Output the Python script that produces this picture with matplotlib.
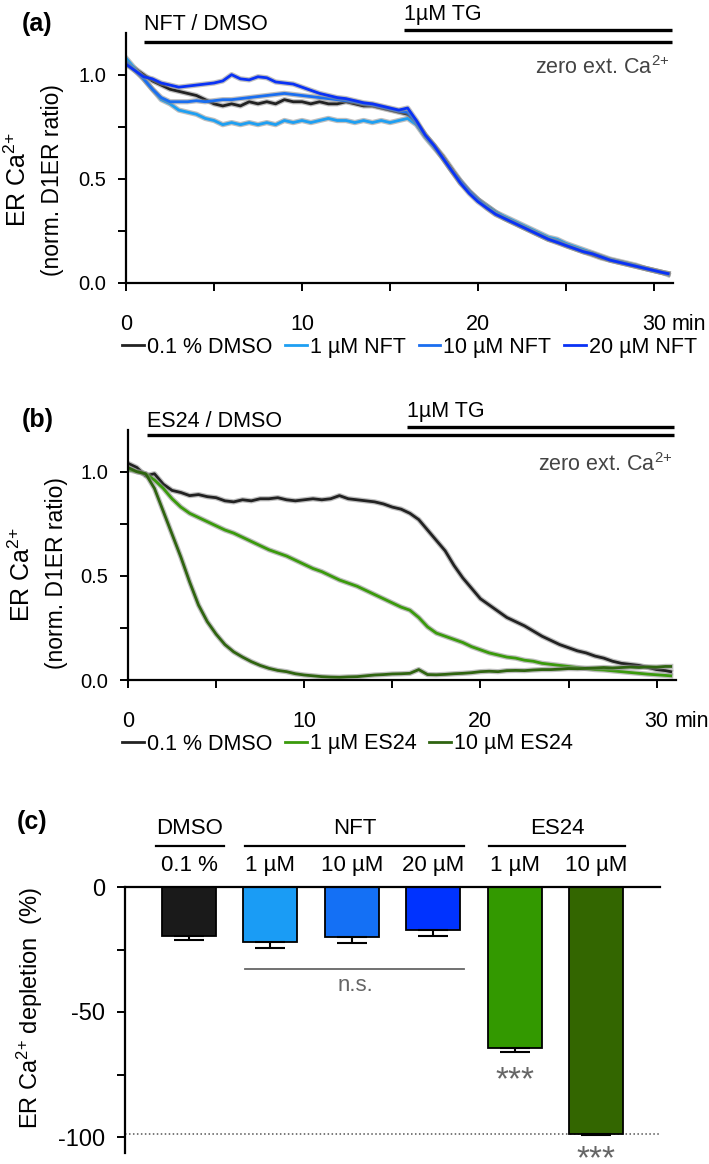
import numpy as np
import matplotlib
matplotlib.use("Agg")
import matplotlib.pyplot as plt

plt.rcParams['font.family'] = ['Liberation Sans', 'DejaVu Sans']
plt.rcParams['mathtext.fontset'] = 'custom'
plt.rcParams['mathtext.rm'] = 'Liberation Sans'
plt.rcParams['mathtext.it'] = 'Liberation Sans:italic'
plt.rcParams['mathtext.bf'] = 'Liberation Sans:bold'

# ---- data ----
t = list(np.arange(0, 30.6, 0.5)) + [30.8]   # minutes

# panel (a): NFT
a_dmso = [1.05, 1.03, 1.00, 0.97, 0.95, 0.93, 0.92, 0.91, 0.90, 0.88, 0.86, 0.85, 0.86, 0.85, 0.87, 0.86,
          0.87, 0.86, 0.88, 0.87, 0.87, 0.86, 0.87, 0.86, 0.86, 0.87, 0.86, 0.85, 0.85, 0.84, 0.83, 0.82,
          0.81, 0.77, 0.71, 0.66, 0.61, 0.55, 0.49, 0.44, 0.40, 0.37, 0.34, 0.31, 0.29, 0.27, 0.25, 0.23,
          0.21, 0.195, 0.18, 0.165, 0.15, 0.135, 0.12, 0.11, 0.10, 0.09, 0.08, 0.07, 0.06, 0.05, 0.045]
a_nft1 = [1.08, 1.03, 0.98, 0.93, 0.88, 0.86, 0.83, 0.82, 0.81, 0.79, 0.78, 0.76, 0.77, 0.76, 0.77, 0.76,
          0.77, 0.76, 0.78, 0.77, 0.78, 0.77, 0.78, 0.79, 0.78, 0.78, 0.77, 0.78, 0.77, 0.78, 0.77, 0.78,
          0.79, 0.76, 0.70, 0.65, 0.60, 0.54, 0.48, 0.44, 0.40, 0.37, 0.34, 0.32, 0.30, 0.28, 0.26, 0.24,
          0.22, 0.21, 0.19, 0.175, 0.16, 0.145, 0.13, 0.115, 0.105, 0.095, 0.085, 0.07, 0.06, 0.05, 0.04]
a_nft10 = [1.06, 1.02, 0.98, 0.93, 0.89, 0.87, 0.87, 0.87, 0.875, 0.87, 0.875, 0.88, 0.88, 0.885, 0.89, 0.895,
           0.90, 0.905, 0.91, 0.905, 0.90, 0.895, 0.89, 0.885, 0.88, 0.875, 0.87, 0.86, 0.855, 0.845, 0.835, 0.825,
           0.82, 0.77, 0.71, 0.66, 0.60, 0.54, 0.49, 0.44, 0.40, 0.36, 0.33, 0.31, 0.29, 0.27, 0.25, 0.23,
           0.21, 0.20, 0.18, 0.165, 0.15, 0.14, 0.125, 0.11, 0.10, 0.09, 0.08, 0.07, 0.06, 0.05, 0.045]
a_nft20 = [1.05, 1.02, 0.99, 0.98, 0.96, 0.95, 0.94, 0.945, 0.95, 0.955, 0.96, 0.97, 1.00, 0.98, 0.975, 0.99,
           0.985, 0.965, 0.96, 0.955, 0.94, 0.925, 0.91, 0.90, 0.89, 0.885, 0.875, 0.865, 0.86, 0.85, 0.84, 0.83,
           0.84, 0.78, 0.71, 0.66, 0.60, 0.54, 0.48, 0.43, 0.39, 0.36, 0.33, 0.31, 0.29, 0.27, 0.25, 0.23,
           0.21, 0.195, 0.18, 0.165, 0.15, 0.14, 0.125, 0.11, 0.10, 0.09, 0.08, 0.07, 0.06, 0.05, 0.045]

# panel (b): ES24
b_dmso = [1.04, 1.02, 0.98, 0.99, 0.94, 0.91, 0.90, 0.885, 0.89, 0.88, 0.875, 0.86, 0.855, 0.865, 0.86, 0.87,
          0.87, 0.875, 0.865, 0.86, 0.865, 0.87, 0.865, 0.87, 0.885, 0.87, 0.865, 0.86, 0.855, 0.845, 0.83, 0.82,
          0.80, 0.77, 0.72, 0.67, 0.62, 0.55, 0.49, 0.44, 0.39, 0.36, 0.33, 0.30, 0.28, 0.26, 0.235, 0.21,
          0.19, 0.17, 0.155, 0.14, 0.13, 0.115, 0.105, 0.09, 0.08, 0.075, 0.07, 0.06, 0.05, 0.045, 0.04]
b_es1 = [1.01, 1.00, 0.99, 0.96, 0.92, 0.87, 0.83, 0.80, 0.78, 0.76, 0.74, 0.72, 0.705, 0.685, 0.665, 0.645,
         0.625, 0.61, 0.595, 0.575, 0.555, 0.535, 0.52, 0.50, 0.48, 0.465, 0.45, 0.43, 0.41, 0.39, 0.37, 0.35,
         0.335, 0.30, 0.255, 0.225, 0.21, 0.195, 0.18, 0.16, 0.145, 0.13, 0.12, 0.11, 0.105, 0.095, 0.09, 0.08,
         0.075, 0.07, 0.065, 0.06, 0.055, 0.05, 0.048, 0.044, 0.04, 0.036, 0.032, 0.028, 0.025, 0.022, 0.02]
b_es10 = [1.02, 1.00, 0.99, 0.92, 0.81, 0.70, 0.59, 0.47, 0.36, 0.28, 0.22, 0.17, 0.135, 0.11, 0.088, 0.07,
          0.056, 0.046, 0.04, 0.03, 0.024, 0.02, 0.016, 0.014, 0.013, 0.015, 0.016, 0.02, 0.024, 0.026, 0.029, 0.03,
          0.032, 0.05, 0.026, 0.025, 0.027, 0.03, 0.032, 0.035, 0.04, 0.042, 0.04, 0.045, 0.046, 0.045, 0.048, 0.05,
          0.05, 0.052, 0.055, 0.054, 0.056, 0.058, 0.06, 0.058, 0.06, 0.062, 0.06, 0.063, 0.062, 0.065, 0.065]

# panel (c): depletion
groups = ['DMSO', 'NFT', 'ES24']
conc_labels = ['0.1 %', '1 µM', '10 µM', '20 µM', '1 µM', '10 µM']
depletion = [-19.5, -22.0, -20.0, -17.2, -64.5, -98.6]
depl_err = [1.8, 2.5, 2.5, 2.3, 1.5, 0.5]

c_dmso = '#222222'
c_nft = ['#1e9ff2', '#1a6ef0', '#0a32f5']
c_es = ['#3a9a0c', '#2f6410']
bar_colors = ['#1a1a1a', '#1a9cf5', '#1470f5', '#0033ff', '#339900', '#336600']

FS = 15.5   # annotation / legend text size
CA = 'Ca$^{2{+}}$'

fig = plt.figure(figsize=(7.09, 11.64), dpi=100)


def trace_axes(rect, xmax):
    ax = fig.add_axes(rect)
    ax.set_xlim(0, xmax)
    ax.set_ylim(0, 1.2)
    for s in ['top', 'right']:
        ax.spines[s].set_visible(False)
    for s in ['left', 'bottom']:
        ax.spines[s].set_linewidth(1.6)
    ax.set_xticks([0, 10, 20, 30])
    ax.set_xticklabels(['0', '10', '20', '30'], fontsize=15.5)
    ax.set_xticks([5, 15, 25], minor=True)
    ax.set_yticks([0, 0.5, 1.0])
    ax.set_yticklabels(['0.0', '0.5', '1.0'], fontsize=14.5)
    ax.set_yticks([0.25, 0.75], minor=True)
    ax.tick_params(axis='both', which='both', direction='out', length=6, width=1.4)
    ax.tick_params(axis='x', which='major', pad=16)
    ax.tick_params(axis='y', which='major', pad=8)
    ax.annotate('min', xy=(30, 0), xycoords=('data', 'axes fraction'), xytext=(13, -22),
                textcoords='offset points', ha='left', va='top', fontsize=15.5)
    return ax


def draw_traces(ax, series, colors, labels):
    lines = []
    for y, c, lab in zip(series, colors, labels):
        ax.plot(t, y, color='#8c8c8c', lw=3.8, alpha=0.55)
        ln, = ax.plot(t, y, color=c, lw=2.0, label=lab)
        lines.append(ln)
    return lines


def annotate_top(ax, drug_text, x0, y_bar1, tg_x0, y_bar2, y_txt1, y_txt2):
    ax.plot([x0, 31.0], [y_bar1, y_bar1], color='k', lw=2.4, clip_on=False, solid_capstyle='butt')
    ax.plot([tg_x0, 31.0], [y_bar2, y_bar2], color='k', lw=2.4, clip_on=False, solid_capstyle='butt')
    ax.text(x0, y_txt1, drug_text, fontsize=FS, ha='left', va='center', clip_on=False)
    ax.text(tg_x0, y_txt2, '1µM TG', fontsize=FS, ha='left', va='center', clip_on=False)
    ax.text(30.9, 1.035, 'zero ext. ' + CA, fontsize=15.5, color='#444444',
            ha='right', va='center')


# ---- (a) ----
axA = trace_axes([126 / 709, 1 - 283 / 1164, 547 / 709, 250 / 1164], 31.08)
labsA = ['0.1 % DMSO', '1 µM NFT', '10 µM NFT', '20 µM NFT']
linesA = draw_traces(axA, [a_dmso, a_nft1, a_nft10, a_nft20], [c_dmso] + c_nft, labsA)
annotate_top(axA, 'NFT / DMSO', 1.05, 1.159, 15.8, 1.216, 1.24, 1.29)
fig.legend(linesA, labsA, loc='center left', bbox_to_anchor=(122 / 709, 1 - 347 / 1164), ncol=4,
           frameon=False, prop={'size': FS}, handlelength=1.0, handletextpad=0.15,
           columnspacing=0.6, borderpad=0, borderaxespad=0)
fig.text(18 / 709, 1 - 180 / 1164, 'ER ' + CA, rotation=90, ha='center', va='center', fontsize=18)
fig.text(53 / 709, 1 - 180 / 1164, '(norm. D1ER ratio)', rotation=90, ha='center', va='center', fontsize=16.5)
fig.text(22 / 709, 1 - 24 / 1164, '(a)', fontweight='bold', fontsize=18, ha='left', va='center')

# ---- (b) ----
axB = trace_axes([128 / 709, 1 - 680 / 1164, 548 / 709, 250 / 1164], 31.1)
labsB = ['0.1 % DMSO', '1 µM ES24', '10 µM ES24']
linesB = draw_traces(axB, [b_dmso, b_es1, b_es10], [c_dmso] + c_es, labsB)
annotate_top(axB, 'ES24 / DMSO', 1.08, 1.178, 15.85, 1.216, 1.24, 1.29)
fig.legend(linesB, labsB, loc='center left', bbox_to_anchor=(122 / 709, 1 - 744 / 1164), ncol=3,
           frameon=False, prop={'size': FS}, handlelength=1.0, handletextpad=0.15,
           columnspacing=0.6, borderpad=0, borderaxespad=0)
fig.text(22 / 709, 1 - 575 / 1164, 'ER ' + CA, rotation=90, ha='center', va='center', fontsize=18)
fig.text(56 / 709, 1 - 573 / 1164, '(norm. D1ER ratio)', rotation=90, ha='center', va='center', fontsize=16.5)
fig.text(22 / 709, 1 - 420 / 1164, '(b)', fontweight='bold', fontsize=18, ha='left', va='center')

# ---- (c) ----
axC = fig.add_axes([125 / 709, 1 - 1153 / 1164, 535 / 709, 266 / 1164])
x = np.arange(len(depletion))
axC.bar(x, depletion, width=0.663, color=bar_colors, edgecolor='k', linewidth=1.3, zorder=2)
axC.errorbar(x, depletion, yerr=[depl_err, [0] * len(depl_err)], fmt='none', ecolor='k',
             elinewidth=1.5, capsize=10.5, capthick=1.5, zorder=3)
axC.set_xlim(-0.786, 5.786)
axC.set_ylim(-106.4, 0)
for s in ['bottom', 'right']:
    axC.spines[s].set_visible(False)
for s in ['left', 'top']:
    axC.spines[s].set_linewidth(1.6)
axC.set_xticks([])
axC.set_yticks([-100, -50, 0])
axC.set_yticklabels(['-100', '-50', '0'], fontsize=17)
axC.set_yticks([-75, -25], minor=True)
axC.tick_params(axis='y', which='both', direction='out', length=6, width=1.4, pad=8.5)
axC.axhline(-98.8, color='#555555', lw=1.1, ls=(0, (1, 1.6)), zorder=1)

# group headers and concentration labels
grp_span = [(-0.405, 0.43), (0.688, 3.378), (3.686, 5.356)]
for g, (g0, g1) in zip(groups, grp_span):
    axC.plot([g0, g1], [16.4, 16.4], color='k', lw=1.6, clip_on=False)
    axC.text((g0 + g1) / 2, 23.2, g, fontsize=16, ha='center', va='center', clip_on=False)
for xi, lab in zip(x, conc_labels):
    axC.text(xi, 8.6, lab, fontsize=16, ha='center', va='center', clip_on=False)

# significance
axC.plot([0.688, 3.378], [-32.8, -32.8], color='#666666', lw=1.3)
axC.text(2.04, -39.5, 'n.s.', fontsize=16, color='#666666', ha='center', va='center')
axC.text(4, -81.0, '***', fontsize=24, color='#666666', ha='center', va='baseline')
axC.text(5, -112.5, '***', fontsize=24, color='#666666', ha='center', va='baseline', clip_on=False)

fig.text(30 / 709, 1 - 1008 / 1164, 'ER ' + CA + ' depletion  (%)', rotation=90, ha='center',
         va='center', fontsize=17)
fig.text(17 / 709, 1 - 822 / 1164, '(c)', fontweight='bold', fontsize=18, ha='left', va='center')

fig.savefig('out.png', dpi=100)
